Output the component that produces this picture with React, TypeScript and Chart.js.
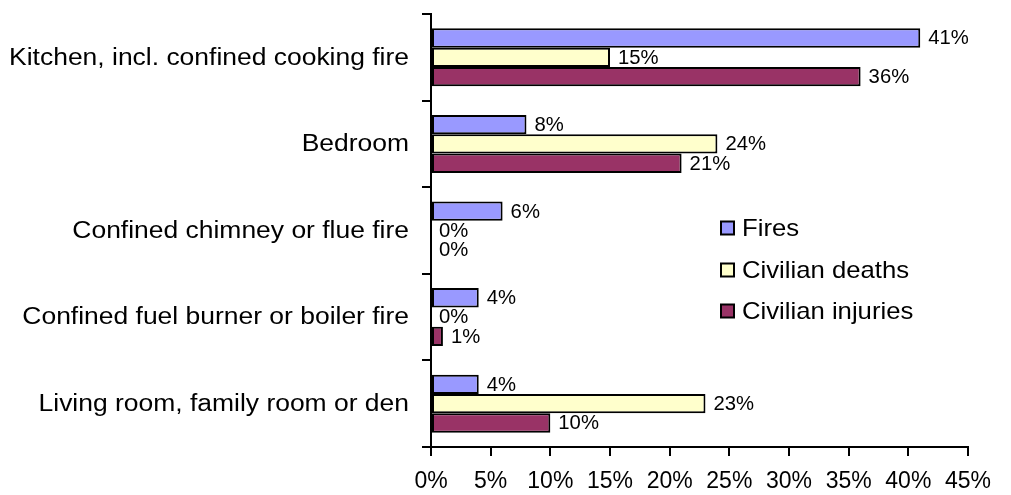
import React, { useEffect, useRef } from 'react';
import { Chart, registerables } from 'chart.js';

Chart.register(...registerables);

const categories = [
  'Kitchen, incl. confined cooking fire',
  'Bedroom',
  'Confined chimney or flue fire',
  'Confined fuel burner or boiler fire',
  'Living room, family room or den',
];
const seriesNames = ['Fires', 'Civilian deaths', 'Civilian injuries'];
const fires = [41, 8, 6, 4, 4];
const civilianDeaths = [15, 24, 0, 0, 23];
const civilianInjuries = [36, 21, 0, 1, 10];
const seriesColors = ['#9999FF', '#FFFFCC', '#993366'];
const xMax = 45;
const xStep = 5;

const FONT = 'Arial, "Liberation Sans", sans-serif';

const labelPlugin = {
  id: 'valueLabels',
  afterDatasetsDraw(chart: any) {
    const ctx = chart.ctx;
    ctx.save();
    ctx.font = `19.5px ${FONT}`;
    ctx.fillStyle = '#000';
    ctx.textAlign = 'left';
    ctx.textBaseline = 'middle';
    chart.data.datasets.forEach((ds: any, di: number) => {
      const meta = chart.getDatasetMeta(di);
      meta.data.forEach((el: any, i: number) => {
        ctx.save();
        ctx.translate(el.x + 8, el.y + 1);
        ctx.scale(1.04, 1);
        ctx.fillText(`${ds.data[i]}%`, 0, 0);
        ctx.restore();
      });
    });
    ctx.restore();
  },
};

const categoryLabelPlugin = {
  id: 'categoryLabels',
  afterDraw(chart: any) {
    const ctx = chart.ctx;
    const yScale = chart.scales.y;
    const right = 409;
    const sx = 1.15;
    ctx.save();
    ctx.font = `23px ${FONT}`;
    ctx.fillStyle = '#000';
    ctx.textAlign = 'right';
    ctx.textBaseline = 'middle';
    chart.data.labels.forEach((lab: string, i: number) => {
      const y = yScale.getPixelForValue(i);
      ctx.save();
      ctx.translate(right, y + 1);
      ctx.scale(sx, 1);
      ctx.fillText(lab, 0, 0);
      ctx.restore();
    });
    ctx.restore();
  },
};

const legendPlugin = {
  id: 'customLegend',
  afterDraw(chart: any) {
    const ctx = chart.ctx;
    ctx.save();
    ctx.font = `24px ${FONT}`;
    ctx.textAlign = 'left';
    ctx.textBaseline = 'middle';
    const x0 = 721;
    const rows = [228, 270, 311];
    chart.data.datasets.forEach((ds: any, i: number) => {
      const y = rows[i];
      ctx.fillStyle = ds.backgroundColor;
      ctx.fillRect(x0, y - 6.5, 13, 13);
      ctx.lineWidth = 2;
      ctx.strokeStyle = '#000';
      ctx.strokeRect(x0, y - 6.5, 13, 13);
      ctx.fillStyle = '#000';
      ctx.save();
      ctx.translate(x0 + 21, y + 1);
      ctx.scale(1.07, 1);
      ctx.fillText(ds.label, 0, 0);
      ctx.restore();
    });
    ctx.restore();
  },
};

export default function App() {
  const ref = useRef<HTMLCanvasElement>(null);
  useEffect(() => {
    if (!ref.current) return;
    Chart.defaults.font.family = FONT;
    Chart.defaults.color = '#000';
    const seriesData = [fires, civilianDeaths, civilianInjuries];
    const chart = new Chart(ref.current, {
      type: 'bar',
      data: {
        labels: categories,
        datasets: seriesNames.map((name, i) => ({
          label: name,
          data: seriesData[i],
          backgroundColor: seriesColors[i],
          borderColor: '#000',
          borderWidth: 2,
          borderSkipped: false,
          categoryPercentage: 0.67,
          barPercentage: 1,
        })),
      },
      options: {
        indexAxis: 'y',
        responsive: false,
        animation: false,
        devicePixelRatio: 1,
        layout: { padding: { top: 14, right: 43, left: 0, bottom: 0 } },
        plugins: {
          legend: { display: false },
          tooltip: { enabled: false },
        },
        scales: {
          y: {
            type: 'category',
            afterFit: (s: any) => {
              s.width = 431;
              s.paddingTop = 0;
              s.paddingBottom = 0;
            },
            grid: {
              display: true,
              drawOnChartArea: false,
              offset: true,
              tickLength: 9,
              color: '#000',
              lineWidth: 2,
            },
            border: { display: true, color: '#000', width: 2 },
            ticks: {
              display: false,
            },
          },
          x: {
            type: 'linear',
            min: 0,
            max: xMax,
            afterFit: (s: any) => {
              s.height = 48;
            },
            grid: {
              display: true,
              drawOnChartArea: false,
              tickLength: 9,
              color: '#000',
              lineWidth: 2,
            },
            border: { display: true, color: '#000', width: 2 },
            ticks: {
              stepSize: xStep,
              font: { size: 23, family: FONT },
              color: '#000',
              padding: 12,
              callback: (v: any) => `${v}%`,
            },
          },
        },
      },
      plugins: [labelPlugin, categoryLabelPlugin, legendPlugin],
    });
    return () => chart.destroy();
  }, []);
  return (
    <div style={{ position: 'absolute', left: 0, top: 0, width: 1011, height: 495, background: '#fff' }}>
      <canvas ref={ref} width={1011} height={495} />
    </div>
  );
}
